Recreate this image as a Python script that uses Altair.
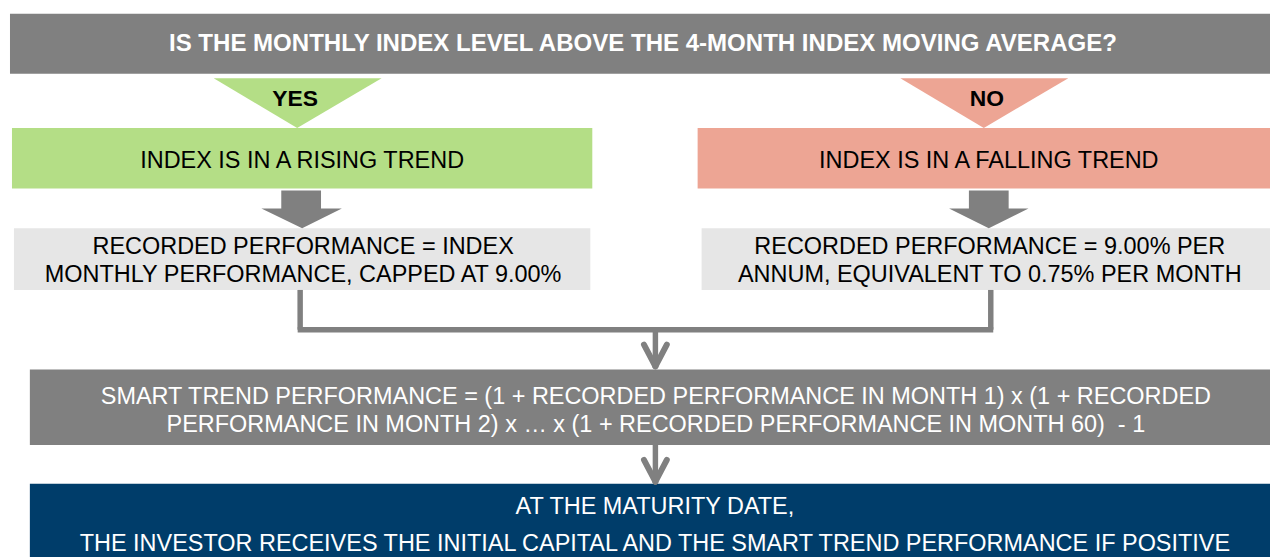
import altair as alt
import pandas as pd

# ---- text content ----
question = "IS THE MONTHLY INDEX LEVEL ABOVE THE 4-MONTH INDEX MOVING AVERAGE?"
answers = ["YES", "NO"]
trends = ["INDEX IS IN A RISING TREND", "INDEX IS IN A FALLING TREND"]
recorded_left = ["RECORDED PERFORMANCE = INDEX", "MONTHLY PERFORMANCE, CAPPED AT 9.00%"]
recorded_right = ["RECORDED PERFORMANCE = 9.00% PER", "ANNUM, EQUIVALENT TO 0.75% PER MONTH"]
smart = ["SMART TREND PERFORMANCE = (1 + RECORDED PERFORMANCE IN MONTH 1) x (1 + RECORDED",
         "PERFORMANCE IN MONTH 2) x … x (1 + RECORDED PERFORMANCE IN MONTH 60)\u00a0 - 1"]
maturity = ["AT THE MATURITY DATE,",
            "THE INVESTOR RECEIVES THE INITIAL CAPITAL AND THE SMART TREND PERFORMANCE IF POSITIVE"]

# ---- colours ----
GREY = "#808080"
GREEN = "#B4DE86"
SALMON = "#EDA594"
LIGHT = "#E6E6E6"
NAVY = "#003D6A"

FONT = "Liberation Sans"

# ---- layout (page pixel coordinates) ----
rects = pd.DataFrame([
    dict(x=10, x2=1290, y=12, y2=72.5, c=GREY),
    dict(x=12, x2=596, y=127, y2=188, c=GREEN),
    dict(x=702, x2=1290, y=127, y2=188, c=SALMON),
    dict(x=283, x2=323, y=190, y2=208.5, c=GREY),
    dict(x=975, x2=1015, y=190, y2=208.5, c=GREY),
    dict(x=14, x2=594, y=228, y2=290, c=LIGHT),
    dict(x=706, x2=1290, y=228, y2=290, c=LIGHT),
    dict(x=30, x2=1290, y=370, y2=446, c=GREY),
    dict(x=30, x2=1290, y=485, y2=580, c=NAVY),
])

tri_rows = []
for g, (l, m, r, top, apex, col) in enumerate([
    (215, 299, 384, 77, 127, GREEN),
    (906, 990, 1075, 77, 127, SALMON),
    (263, 304, 344, 208, 228, GREY),
    (955, 995, 1035, 208, 228, GREY),
]):
    tri_rows += [dict(g=g, x=l, y=top, y2=top, c=col),
                 dict(g=g, x=m, y=top, y2=apex, c=col),
                 dict(g=g, x=r, y=top, y2=top, c=col)]
tris = pd.DataFrame(tri_rows)

connectors = pd.DataFrame([
    dict(x=302, x2=302, y=290, y2=330),
    dict(x=299.5, x2=999.5, y=330, y2=330),
    dict(x=997, x2=997, y=290, y2=330),
    dict(x=659.5, x2=659.5, y=330, y2=366),
    dict(x=659.5, x2=659.5, y=446, y2=482),
])
heads = pd.DataFrame([
    dict(x=648, x2=659.5, y=345, y2=367),
    dict(x=671, x2=659.5, y=345, y2=367),
    dict(x=648, x2=659.5, y=461, y2=483),
    dict(x=671, x2=659.5, y=461, y2=483),
])

q_txt = pd.DataFrame([dict(x=647, y=42.5, t=question, c="white")])
ans_txt = pd.DataFrame([
    dict(x=297, y=98, t=answers[0], c="black"),
    dict(x=993, y=98, t=answers[1], c="black"),
])
reg_txt = pd.DataFrame([
    dict(x=304, y=160.5, t=trends[0], c="black"),
    dict(x=995, y=160.5, t=trends[1], c="black"),
    dict(x=305, y=247, t=recorded_left[0], c="black"),
    dict(x=305, y=275, t=recorded_left[1], c="black"),
    dict(x=996, y=247, t=recorded_right[0], c="black"),
    dict(x=996, y=275, t=recorded_right[1], c="black"),
    dict(x=660, y=398, t=smart[0], c="white"),
    dict(x=660, y=426, t=smart[1], c="white"),
    dict(x=659, y=508.5, t=maturity[0], c="white"),
    dict(x=659, y=546, t=maturity[1], c="white"),
])

XS = alt.Scale(domain=[8, 1278], nice=False, zero=False)
YS = alt.Scale(domain=[8, 557], nice=False, zero=False, reverse=True)


def X(f):
    return alt.X(f, type="quantitative", scale=XS, axis=None)


def Y(f):
    return alt.Y(f, type="quantitative", scale=YS, axis=None)


rect_layer = alt.Chart(rects).mark_rect().encode(
    x=X("x"), x2="x2", y=Y("y"), y2="y2", color=alt.Color("c:N", scale=None))

tri_layer = alt.Chart(tris).mark_area(interpolate="linear").encode(
    x=X("x"), y=Y("y"), y2="y2", detail="g:N", color=alt.Color("c:N", scale=None))

conn_layer = alt.Chart(connectors).mark_rule(strokeWidth=5.5, color=GREY, strokeCap="butt").encode(
    x=X("x"), x2="x2", y=Y("y"), y2="y2")

head_layer = alt.Chart(heads).mark_rule(strokeWidth=6, color=GREY, strokeCap="round").encode(
    x=X("x"), x2="x2", y=Y("y"), y2="y2")

q_layer = alt.Chart(q_txt).mark_text(
    font=FONT, fontSize=24.2, fontWeight="bold", align="center", baseline="middle").encode(
    x=X("x"), y=Y("y"), text="t:N", color=alt.Color("c:N", scale=None))

ans_layer = alt.Chart(ans_txt).mark_text(
    font=FONT, fontSize=23, fontWeight="bold", align="center", baseline="middle").encode(
    x=X("x"), y=Y("y"), text="t:N", color=alt.Color("c:N", scale=None))

reg_layer = alt.Chart(reg_txt).mark_text(
    font=FONT, fontSize=23.6, align="center", baseline="middle").encode(
    x=X("x"), y=Y("y"), text="t:N", color=alt.Color("c:N", scale=None))

chart = alt.layer(rect_layer, tri_layer, conn_layer, head_layer, q_layer, ans_layer, reg_layer).properties(
    width=1270, height=549, padding=0,
    autosize=alt.AutoSizeParams(type="none"),
    background="white",
).configure_view(stroke=None)

chart.save("out.html", embed_options={"renderer": "svg", "actions": False})
